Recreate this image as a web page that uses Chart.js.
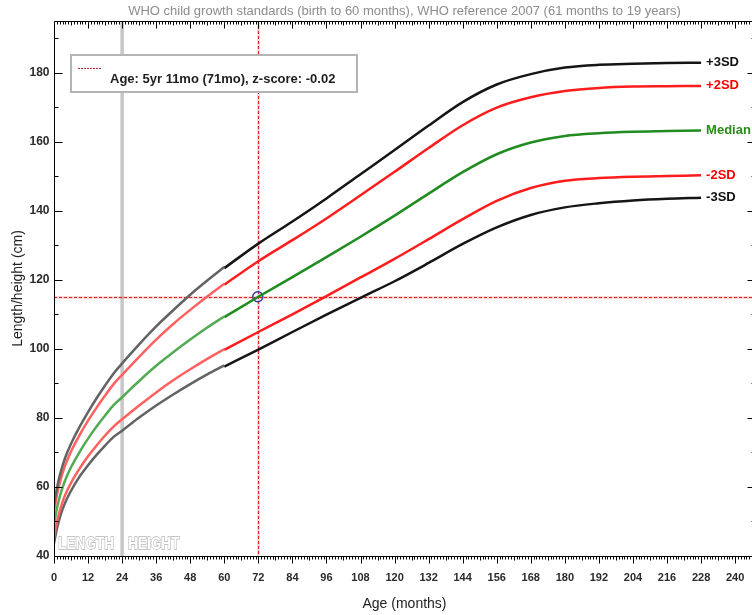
<!DOCTYPE html>
<html>
<head>
<meta charset="utf-8">
<script src="https://cdn.jsdelivr.net/npm/chart.js@4.4.1/dist/chart.umd.min.js"></script>
<style>
  html, body { margin: 0; padding: 0; background: #fff; overflow: hidden; }
  #growth { display: block; }
</style>
</head>
<body>
<canvas id="growth" width="762" height="615"></canvas>
<script>
// WHO child growth standards 2006 (girls, 0-60 months)
const agesEarly = [0, 1, 2, 3, 4, 6, 9, 12, 15, 18, 21, 24, 30, 36, 42, 48, 54, 60];
const p3Early  = [54.7, 59.5, 63.2, 66.1, 68.6, 72.5, 77.4, 81.7, 85.7, 89.4, 92.9, 95.8, 101.3, 106.5, 111.2, 115.7, 119.8, 123.7];
const p2Early  = [52.9, 57.6, 61.1, 64.0, 66.4, 70.3, 75.0, 79.2, 83.0, 86.5, 89.8, 92.5, 97.7, 102.7, 107.2, 111.3, 115.2, 118.9];
const medEarly = [49.1, 53.7, 57.1, 59.8, 62.1, 65.7, 70.1, 74.0, 77.5, 80.7, 83.7, 86.0, 90.7, 95.1, 99.0, 102.7, 106.2, 109.4];
const m2Early  = [45.4, 49.8, 53.0, 55.6, 57.8, 61.2, 65.3, 68.9, 72.0, 74.9, 77.5, 79.6, 83.6, 87.4, 90.9, 94.1, 97.1, 99.9];
const m3Early  = [43.6, 47.8, 51.0, 53.5, 55.6, 58.9, 63.0, 66.3, 69.3, 72.0, 74.5, 76.3, 80.1, 83.6, 86.8, 89.8, 92.6, 95.2];

// WHO reference 2007 (61 months to 19 years)
const agesLate = [60, 72, 84, 96, 108, 120, 132, 144, 156, 168, 180, 192, 204, 216, 228];
const p3Late  = [123.4, 130.5, 136.9, 143.6, 150.6, 157.6, 164.7, 171.5, 176.6, 179.6, 181.5, 182.3, 182.6, 182.8, 182.9];
const p2Late  = [118.6, 125.4, 131.5, 137.8, 144.5, 151.3, 158.2, 164.8, 169.9, 172.9, 174.7, 175.6, 176.0, 176.1, 176.2];
const medLate = [109.2, 115.1, 120.8, 126.6, 132.5, 138.6, 145.0, 151.2, 156.4, 159.8, 161.7, 162.5, 162.9, 163.1, 163.3];
const m2Late  = [99.7, 104.9, 110.0, 115.3, 120.7, 126.1, 131.8, 137.6, 142.9, 146.6, 148.7, 149.5, 149.9, 150.1, 150.3];
const m3Late  = [94.9, 99.8, 104.9, 109.9, 114.8, 119.6, 124.9, 130.4, 135.2, 138.8, 141.0, 142.2, 143.0, 143.5, 143.8];

const curveLabels = ['+3SD', '+2SD', 'Median', '-2SD', '-3SD'];

// the child
const childAge = 71.8;
const childHeight = 115.1;
const childText = 'Age: 5yr 11mo (71mo), z-score: -0.02';

const xTickLabels = [0, 12, 24, 36, 48, 60, 72, 84, 96, 108, 120, 132, 144, 156, 168, 180, 192, 204, 216, 228, 240];
const yTickLabels = [40, 60, 80, 100, 120, 140, 160, 180];

const ARIAL = 'Arial, "Liberation Sans", sans-serif';

function pts(xs, ys) {
  return xs.map((x, i) => ({ x: x, y: ys[i] }));
}

const earlyCol = ['#636363', '#ff6060', '#52aa52', '#ff6060', '#636363'];
const lateCol  = ['#151515', '#ff1c1c', '#208c20', '#ff1c1c', '#151515'];
const labelCol = ['#111111', '#ff0000', '#2a8a1a', '#ff0000', '#111111'];
const earlyData = [p3Early, p2Early, medEarly, m2Early, m3Early];
const lateData = [p3Late, p2Late, medLate, m2Late, m3Late];

const datasets = [];
for (let i = 0; i < 5; i++) {
  datasets.push({
    data: pts(agesEarly, earlyData[i]),
    borderColor: earlyCol[i], borderWidth: 2.5, pointRadius: 0,
    cubicInterpolationMode: 'monotone', fill: false
  });
  datasets.push({
    data: pts(agesLate, lateData[i]),
    borderColor: lateCol[i], borderWidth: 2.5, pointRadius: 0,
    cubicInterpolationMode: 'monotone', fill: false
  });
}
datasets.push({
  data: [{ x: childAge, y: childHeight }],
  showLine: false, pointRadius: 5, pointBorderWidth: 1.5,
  pointBorderColor: '#3535a5', pointBackgroundColor: 'rgba(0,0,0,0)'
});

// narrow outlined text (no narrow font installed, so squeeze Arial)
function narrowText(ctx, txt, x, y, align) {
  ctx.save();
  ctx.translate(x, y);
  ctx.scale(0.8, 1);
  ctx.textAlign = align;
  ctx.strokeText(txt, 0, 0);
  ctx.fillText(txt, 0, 0);
  ctx.restore();
}

const decor = {
  id: 'decor',
  beforeDatasetsDraw(chart) {
    const ctx = chart.ctx;
    const a = chart.chartArea;
    const xs = chart.scales.x, ys = chart.scales.y;
    ctx.save();
    // length / height boundary
    const x24 = xs.getPixelForValue(24);
    ctx.strokeStyle = '#c6c6c6';
    ctx.lineWidth = 3.5;
    ctx.beginPath(); ctx.moveTo(x24, a.top); ctx.lineTo(x24, a.bottom); ctx.stroke();

    ctx.font = 'bold 17px ' + ARIAL;
    ctx.textBaseline = 'alphabetic';
    ctx.lineWidth = 1.3;
    ctx.strokeStyle = '#b4b4b4';
    ctx.fillStyle = '#ffffff';
    narrowText(ctx, 'LENGTH', x24 - 8, a.bottom - 7, 'right');
    narrowText(ctx, 'HEIGHT', x24 + 6, a.bottom - 7, 'left');

    // crosshair
    const cx = Math.round(xs.getPixelForValue(childAge)) + 0.5;
    const cy = Math.round(ys.getPixelForValue(childHeight)) + 0.5;
    ctx.strokeStyle = 'rgba(220,40,40,0.18)';
    ctx.lineWidth = 3;
    ctx.beginPath();
    ctx.moveTo(cx, a.top); ctx.lineTo(cx, a.bottom);
    ctx.moveTo(a.left, cy); ctx.lineTo(a.right, cy);
    ctx.stroke();
    ctx.strokeStyle = '#d42020';
    ctx.lineWidth = 1;
    ctx.setLineDash([3, 2]);
    ctx.beginPath();
    ctx.moveTo(cx, a.top); ctx.lineTo(cx, a.bottom);
    ctx.moveTo(a.left, cy); ctx.lineTo(a.right, cy);
    ctx.stroke();
    ctx.restore();
  },
  afterDraw(chart) {
    const ctx = chart.ctx;
    const a = chart.chartArea;
    const xs = chart.scales.x, ys = chart.scales.y;
    ctx.save();
    ctx.strokeStyle = '#000';
    ctx.lineWidth = 1;
    ctx.beginPath();
    const L = a.left + 0.5, B = Math.round(a.bottom) + 0.5, T = Math.round(a.top) + 0.5, R = Math.round(a.right) + 0.5;
    ctx.moveTo(L, T); ctx.lineTo(L, B); ctx.lineTo(R, B); ctx.lineTo(R, T); ctx.lineTo(L, T);
    // month ticks, bottom and top
    for (let m = 0; m <= xs.max; m++) {
      const px = Math.round(xs.getPixelForValue(m)) + 0.5;
      const len = m % 12 === 0 ? 7 : (m % 6 === 0 ? 4 : 3);
      ctx.moveTo(px, B); ctx.lineTo(px, B + len);
      ctx.moveTo(px, T); ctx.lineTo(px, T + len);
    }
    // cm ticks, left and right
    for (let v = ys.min; v <= ys.max; v += 10) {
      const py = Math.round(ys.getPixelForValue(v)) + 0.5;
      const len = v % 20 === 0 ? 8 : 4;
      ctx.moveTo(L, py); ctx.lineTo(L + len, py);
      ctx.moveTo(R, py); ctx.lineTo(R - len, py);
    }
    ctx.stroke();

    // tick labels
    ctx.fillStyle = '#2b2b2b';
    ctx.font = 'bold 11px ' + ARIAL;
    ctx.textAlign = 'center';
    ctx.textBaseline = 'middle';
    xTickLabels.forEach(m => ctx.fillText(String(m), xs.getPixelForValue(m), B + 21));
    ctx.textAlign = 'right';
    ctx.font = 'bold 12px ' + ARIAL;
    yTickLabels.forEach(v => ctx.fillText(String(v), L - 5, ys.getPixelForValue(v)));

    // axis titles
    ctx.fillStyle = '#222';
    ctx.font = '14px ' + ARIAL;
    ctx.textAlign = 'center';
    ctx.fillText('Age (months)', (a.left + a.right) / 2, 604);
    ctx.save();
    ctx.translate(18, (a.top + a.bottom) / 2);
    ctx.rotate(-Math.PI / 2);
    ctx.fillText('Length/height (cm)', 0, 0);
    ctx.restore();

    // chart title
    ctx.fillStyle = '#8c8c8c';
    ctx.font = '13px ' + ARIAL;
    ctx.fillText('WHO child growth standards (birth to 60 months), WHO reference 2007 (61 months to 19 years)', (a.left + a.right) / 2, 11);

    // curve labels
    ctx.font = 'bold 13px ' + ARIAL;
    ctx.textAlign = 'left';
    const lastAge = agesLate[agesLate.length - 1];
    for (let i = 0; i < 5; i++) {
      const d = lateData[i];
      ctx.fillStyle = labelCol[i];
      ctx.fillText(curveLabels[i], xs.getPixelForValue(lastAge) + 5, ys.getPixelForValue(d[d.length - 1]));
    }

    // legend box
    ctx.fillStyle = '#fff';
    ctx.fillRect(71, 55, 286, 37);
    ctx.strokeStyle = '#b4b4b4';
    ctx.lineWidth = 2;
    ctx.strokeRect(71, 55, 286, 37);
    ctx.strokeStyle = '#b03030';
    ctx.lineWidth = 1;
    ctx.setLineDash([2, 1]);
    ctx.beginPath(); ctx.moveTo(78, 68.5); ctx.lineTo(101, 68.5); ctx.stroke();
    ctx.setLineDash([]);
    ctx.fillStyle = '#1e1e1e';
    ctx.font = 'bold 13px ' + ARIAL;
    ctx.textBaseline = 'alphabetic';
    ctx.fillText(childText, 110, 83);
    ctx.restore();
  }
};

new Chart(document.getElementById('growth'), {
  type: 'line',
  data: { datasets: datasets },
  options: {
    responsive: false,
    animation: false,
    layout: { padding: { top: 21, right: 7, left: 0, bottom: 0 } },
    plugins: { legend: { display: false }, tooltip: { enabled: false }, title: { display: false } },
    scales: {
      x: {
        type: 'linear', min: 0, max: 247,
        grid: { display: false }, border: { display: false },
        ticks: { display: false },
        afterFit(s) { s.height = 59; }
      },
      y: {
        type: 'linear', min: 40, max: 195,
        grid: { display: false }, border: { display: false },
        ticks: { display: false },
        afterFit(s) { s.width = 54; }
      }
    }
  },
  plugins: [decor]
});
</script>
</body>
</html>
